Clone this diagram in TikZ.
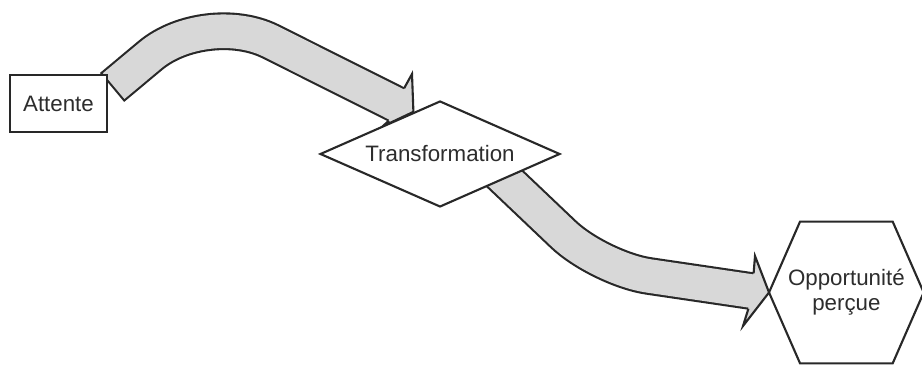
\documentclass[tikz,border=0pt]{standalone}
\usepackage{fontspec}
\setmainfont{Liberation Sans}
\usetikzlibrary{positioning,calc,shapes.geometric,backgrounds}
\definecolor{pLine}{RGB}{40,40,40}
\definecolor{pBand}{RGB}{216,216,216}
\definecolor{pText}{RGB}{45,45,45}
\tikzset{
  stage/.style={rectangle, draw=pLine, fill=white, line width=1.2pt,
                minimum width=1.94cm, minimum height=1.14cm, text=pText,
                font=\fontsize{12.7}{14.2}\selectfont},
  gate/.style={diamond, aspect=2.26, draw=pLine, fill=white, line width=1.2pt,
               minimum width=4.8cm, minimum height=2.12cm, inner sep=0pt,
               text=pText, font=\fontsize{12.7}{14.2}\selectfont},
  goal/.style={rectangle, minimum width=3.08cm, minimum height=2.82cm,
               align=center, text=pText, font=\fontsize{12.7}{14.2}\selectfont},
  hexline/.style={draw=pLine, fill=white, line width=1.2pt, line join=miter},
  bandout/.style={draw=pLine, line width=21.5pt, rounded corners=#1},
  bandout/.default=1cm,
  bandin/.style={draw=pBand, line width=19.1pt, rounded corners=#1,
                 shorten <=1.2pt, shorten >=-1pt},
  bandin/.default=1cm,
  headfill/.style={fill=pBand},
  headline/.style={draw=pLine, line width=1.2pt, line join=miter},
}

\begin{document}
\begin{tikzpicture}[x=0.02cm, y=-0.02cm]
  \useasboundingbox (0,0) rectangle (922,368);

  %====================== STAGES ======================
  \node[stage] (att) at (58.5,103.5) {Attente};
  \node[gate, right=4.22cm of att.east, yshift=-1.01cm] (trans) {Transformation};
  \node[goal, right=4.16cm of trans.east, yshift=-2.77cm] (opp) {Opportunité\\perçue};

  %====================== BANDS ======================
  \begin{scope}[on background layer]
    % hexagon round the last stage
    \draw[hexline] (opp.west) -- ([xshift=0.62cm]opp.north west)
      -- ([xshift=-0.62cm]opp.north east) -- (opp.east)
      -- ([xshift=-0.62cm]opp.south east) -- ([xshift=0.62cm]opp.south west) -- cycle;

    % Attente -> Transformation
    \coordinate (a1s) at ($(att.north east)+(4,13.5)$);
    \coordinate (a1k) at (206,9);
    \coordinate (a1e) at (396.5,104.5);
    \coordinate (a1p) at (404.1,88.3);
    \coordinate (a1b) at (412,74);
    \coordinate (a1t) at ($(trans.west)!0.78!(trans.north)$);
    \coordinate (a1c) at (382.5,126.5);
    \coordinate (a1q) at (388.9,120.7);
    \draw[bandout=1.45cm] (a1s) -- (a1k) -- (a1e);
    \draw[bandin=1.45cm] (a1s) -- (a1k) -- (a1e);
    \fill[headfill] (a1p) -- (a1b) -- (a1t) -- (a1c) -- (a1q) -- cycle;
    \draw[headline] (a1p) -- (a1b) -- (a1t) -- (a1c) -- (a1q);

    % Transformation -> Opportunite
    \coordinate (a2s) at ($(trans.south east)+(-8,-14)$);
    \coordinate (a2k) at (599.5,268.7);
    \coordinate (a2e) at (751,291);
    \coordinate (a2p) at (753.6,273.3);
    \coordinate (a2b) at (755,256);
    \coordinate (a2c) at (743,326);
    \coordinate (a2q) at (748.4,308.7);
    \draw[bandout] (a2s) -- (a2k) -- (a2e);
    \draw[bandin] (a2s) -- (a2k) -- (a2e);
    \fill[headfill] (a2p) -- (a2b) -- (opp.west) -- (a2c) -- (a2q) -- cycle;
    \draw[headline] (a2p) -- (a2b) -- (opp.west) -- (a2c) -- (a2q);
  \end{scope}

\end{tikzpicture}
\end{document}
